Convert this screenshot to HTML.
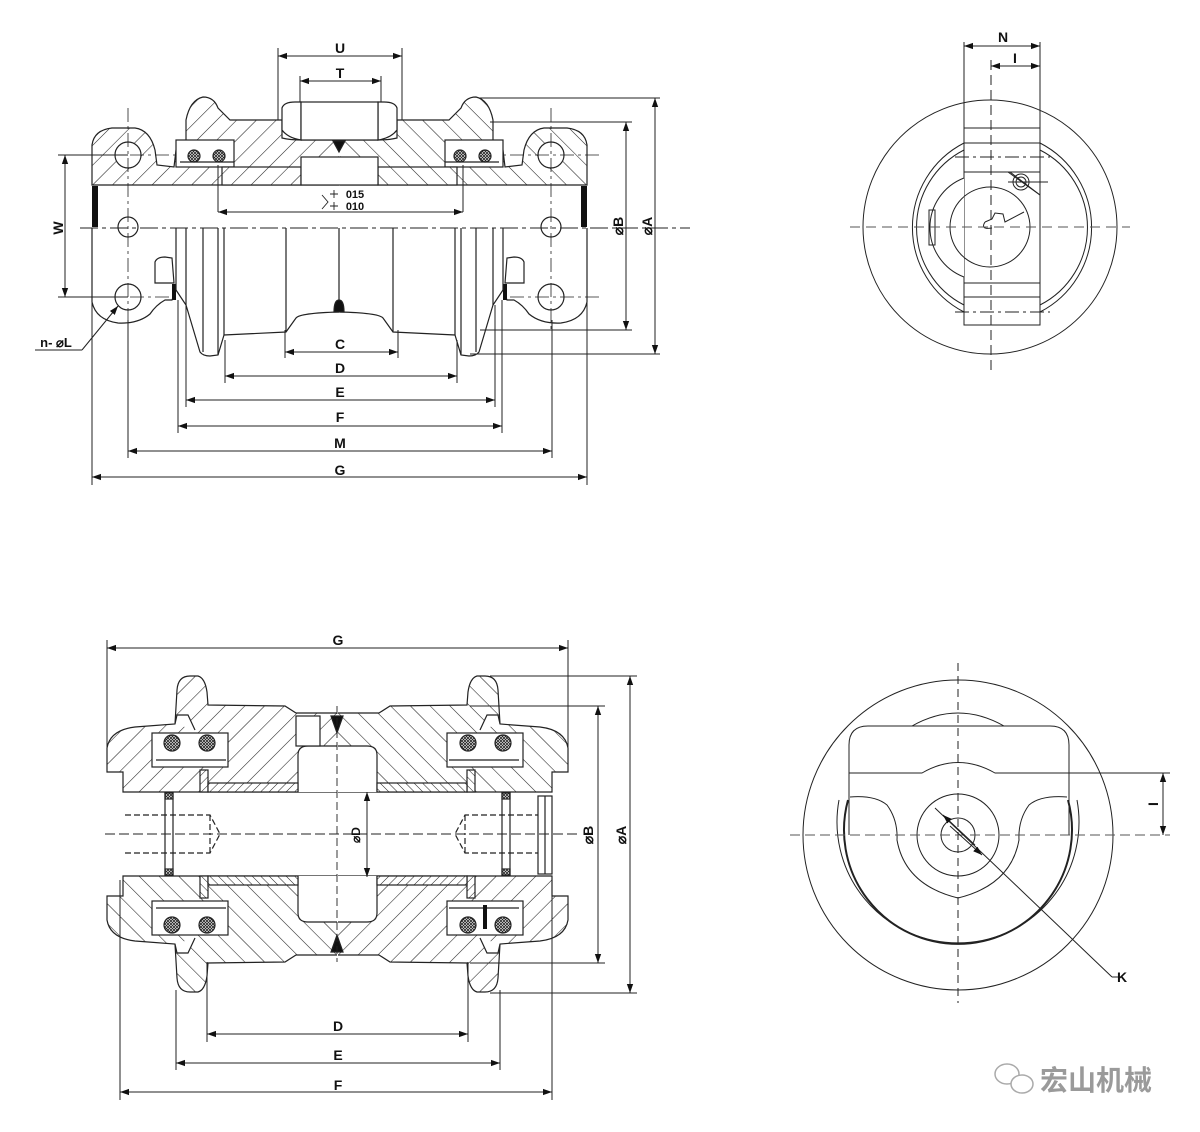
<!DOCTYPE html>
<html><head><meta charset="utf-8"><style>
html,body{margin:0;padding:0;background:#fff}
svg{display:block}
text{font-family:"Liberation Sans",sans-serif;font-weight:bold;fill:#111}
</style></head><body>
<svg width="1200" height="1132" viewBox="0 0 1200 1132" xmlns="http://www.w3.org/2000/svg">
<defs>
<pattern id="h" patternUnits="userSpaceOnUse" width="14" height="14" patternTransform="rotate(45)">
<rect width="14" height="14" fill="#fff"/><line x1="0" y1="0" x2="0" y2="14" stroke="#222" stroke-width="1.1"/></pattern>
<pattern id="hf" patternUnits="userSpaceOnUse" width="6" height="6" patternTransform="rotate(45)">
<rect width="6" height="6" fill="#fff"/><line x1="0" y1="0" x2="0" y2="6" stroke="#222" stroke-width="1"/></pattern>
<pattern id="x" patternUnits="userSpaceOnUse" width="3" height="3">
<rect width="3" height="3" fill="#fff"/><path d="M0 0L3 3M3 0L0 3" stroke="#222" stroke-width="0.8"/></pattern>
<marker id="a" viewBox="0 0 10 10" refX="10" refY="5" markerWidth="9" markerHeight="9" orient="auto-start-reverse" markerUnits="userSpaceOnUse"><path d="M0 1.5L10 5L0 8.5z" fill="#111"/></marker>
</defs>
<g fill="none" stroke="#222" stroke-width="1.2">

<!-- ============ TOP LEFT VIEW ============ -->
<g id="tq">
<path d="M339,185 L92,185 L92,145 Q94,130 112,128 L135,128 Q150,130 155,150 L157,165 L174,167 L176,150 L186,140 L186,120 Q190,100 203,97 Q214,97 218,108 L230,120 L282,120 L282,138 Q290,140 301,140 L339,140" fill="url(#h)"/>
<path d="M282,120 L282,108 Q284,102 295,102 L301,102 L301,140 Q288,138 282,130 Z" fill="#fff"/>
<rect x="176" y="140" width="58" height="27" fill="#fff"/>
<line x1="180" y1="162" x2="234" y2="162"/>
<circle cx="194" cy="156" r="6" fill="url(#x)"/><circle cx="219" cy="156" r="6" fill="url(#x)"/>
<rect x="222" y="167" width="79" height="18" fill="url(#h)"/>
<rect x="92" y="186" width="6" height="41" fill="#111" stroke="none"/>
<circle cx="128" cy="155" r="13" fill="#fff"/>
<circle cx="128" cy="227" r="10" fill="#fff"/>
<circle cx="128" cy="297" r="13"/>
<path d="M92,228 L92,302 Q96,320 118,323 Q138,324 150,314 Q156,305 165,300 L172,300 L176,290"/>
<path d="M155,283 L155,262 Q157,257 165,257 L172,258 L174,283 Z" fill="#fff"/>
<rect x="172" y="284" width="4" height="16" fill="#111" stroke="none"/>
<path d="M176,228 V290 M186,228 V305 M203,228 V352 M218,228 V355 M224,228 V335 M286,228 V332"/>
<path d="M176,290 L186,305 L200,352 Q203,356 210,356 L218,355 L224,335 L286,332 L296,318 Q300,313 339,312"/>
<path d="M128,108 V330 M80,155 H175 M80,297 H170" stroke-dasharray="14 4 3 4" stroke-width="0.8"/>
</g>
<use href="#tq" transform="translate(679,0) scale(-1,1)"/>
<rect x="301" y="102" width="77" height="38" fill="#fff"/>
<rect x="301" y="157" width="77" height="28" fill="#fff"/>
<polygon points="333,141 345,141 339,152" fill="#111"/>
<line x1="339" y1="228" x2="339" y2="303"/>
<path d="M334,312 Q334,300 339,300 Q344,300 344,312 Z" fill="#111"/>
<line x1="80" y1="228" x2="690" y2="228" stroke-dasharray="18 4 4 4" stroke-width="0.9"/>

<!-- dims top -->
<g stroke-width="1">
<path d="M278,48 V120 M402,48 V120 M300,76 V102 M381,76 V102"/>
<line x1="278" y1="56" x2="402" y2="56" marker-start="url(#a)" marker-end="url(#a)"/>
<line x1="300" y1="81" x2="381" y2="81" marker-start="url(#a)" marker-end="url(#a)"/>
<line x1="218" y1="212" x2="463" y2="212" marker-start="url(#a)" marker-end="url(#a)"/>
<path d="M218,165 V212 M463,165 V212"/>
<path d="M92,228 V485 M587,228 V485 M128,320 V458 M552,320 V458 M178,300 V433 M502,300 V433 M186,305 V407 M495,305 V407 M225,340 V383 M457,340 V383 M285,330 V358 M398,330 V358"/>
<line x1="285" y1="352" x2="398" y2="352" marker-start="url(#a)" marker-end="url(#a)"/>
<line x1="225" y1="376" x2="457" y2="376" marker-start="url(#a)" marker-end="url(#a)"/>
<line x1="186" y1="400" x2="495" y2="400" marker-start="url(#a)" marker-end="url(#a)"/>
<line x1="178" y1="426" x2="502" y2="426" marker-start="url(#a)" marker-end="url(#a)"/>
<line x1="128" y1="451" x2="552" y2="451" marker-start="url(#a)" marker-end="url(#a)"/>
<line x1="92" y1="477" x2="587" y2="477" marker-start="url(#a)" marker-end="url(#a)"/>
<path d="M480,98 H660 M490,122 H632 M480,330 H632 M470,354 H660"/>
<line x1="626" y1="122" x2="626" y2="330" marker-start="url(#a)" marker-end="url(#a)"/>
<line x1="655" y1="98" x2="655" y2="354" marker-start="url(#a)" marker-end="url(#a)"/>
<path d="M58,155 H128 M58,297 H128"/>
<line x1="65" y1="155" x2="65" y2="297" marker-start="url(#a)" marker-end="url(#a)"/>
<path d="M35,350 H82" />
<line x1="82" y1="350" x2="118" y2="306" marker-end="url(#a)"/>
<path d="M322,195 L328,202 L322,209 M330,194 H338 M334,190 V198 M330,206 H338 M334,202 V210" stroke-width="0.9"/>
</g>

<!-- ============ BOTTOM LEFT VIEW ============ -->
<g id="bq">
<path d="M337,792 L123,792 L123,772 L107,772 L107,748 Q110,730 135,727 L175,724 L177,690 Q178,676 190,676 L198,676 Q205,678 207,692 L208,705 L285,706 L296,713 L337,713" fill="url(#h)"/>
<rect x="298" y="746" width="39" height="46" fill="#fff" stroke="none"/>
<path d="M337,746 L308,746 Q298,746 298,755 L298,792"/>
<path d="M175,724 L177,715 L188,715 L195,730" fill="#fff"/>
<rect x="152" y="733" width="76" height="34" fill="#fff"/>
<line x1="156" y1="760" x2="226" y2="760"/>
<circle cx="172" cy="743" r="8" fill="url(#x)"/><circle cx="207" cy="743" r="8" fill="url(#x)"/>
<rect x="200" y="770" width="8" height="22" fill="url(#hf)"/>
<rect x="208" y="783" width="90" height="9" fill="url(#hf)"/>
<rect x="165" y="793" width="8" height="6" fill="url(#x)"/>
<path d="M165,792 V834 M173,792 V834"/>
<path d="M125,815 H210 L220,834 M210,815 V834" stroke-dasharray="6 3"/>
</g>
<use href="#bq" transform="translate(675,0) scale(-1,1)"/>
<use href="#bq" transform="translate(0,1668) scale(1,-1)"/>
<use href="#bq" transform="translate(675,1668) scale(-1,-1)"/>
<rect x="296" y="716" width="24" height="30" fill="#fff"/>
<rect x="538" y="796" width="14" height="78" fill="#fff"/>
<path d="M545,796 V874"/>
<rect x="483" y="905" width="4" height="24" fill="#111" stroke="none"/>
<polygon points="331,716 343,716 337,733" fill="#111"/>
<polygon points="331,952 343,952 337,935" fill="#111"/>
<line x1="337" y1="706" x2="337" y2="962" stroke-dasharray="8 4" stroke-width="0.9"/>
<line x1="105" y1="834" x2="578" y2="834" stroke-dasharray="10 4" stroke-width="0.9"/>
<g stroke-width="1">
<line x1="367" y1="792" x2="367" y2="877" marker-start="url(#a)" marker-end="url(#a)"/>
<path d="M107,640 V748 M568,640 V772"/>
<line x1="107" y1="648" x2="568" y2="648" marker-start="url(#a)" marker-end="url(#a)"/>
<path d="M207,962 V1042 M468,962 V1042 M176,990 V1070 M500,990 V1070 M120,880 V1100 M552,880 V1100"/>
<line x1="207" y1="1034" x2="468" y2="1034" marker-start="url(#a)" marker-end="url(#a)"/>
<line x1="176" y1="1063" x2="500" y2="1063" marker-start="url(#a)" marker-end="url(#a)"/>
<line x1="120" y1="1092" x2="552" y2="1092" marker-start="url(#a)" marker-end="url(#a)"/>
<path d="M470,706 H605 M470,963 H605 M490,676 H637 M490,993 H637"/>
<line x1="598" y1="706" x2="598" y2="963" marker-start="url(#a)" marker-end="url(#a)"/>
<line x1="630" y1="676" x2="630" y2="993" marker-start="url(#a)" marker-end="url(#a)"/>
</g>

<!-- ============ TOP RIGHT VIEW ============ -->
<g stroke-width="1">
<circle cx="990" cy="227" r="127"/>
<path d="M964,143 A95 95 0 0 0 964,312 M1040,143 A95 95 0 0 1 1040,312"/>
<path d="M964,150 A87 87 0 0 0 964,305 M1040,150 A87 87 0 0 1 1040,305"/>
<rect x="964" y="128" width="76" height="197" fill="#fff"/>
<path d="M964,143 H1040 M964,172 H1040 M964,283 H1040 M964,297 H1040"/>
<path d="M955,157 H1050 M955,312 H1050" stroke-dasharray="14 4 3 4"/>
<path d="M964,172 L964,178 A53 53 0 0 0 964,277 L964,283" fill="#fff"/>
<path d="M1040,172 L1040,195 L1008,172"/>
<rect x="929" y="210" width="6" height="35"/>
<circle cx="990" cy="227" r="40"/>
<path d="M985,222 L992,219 L995,213 L1003,214 L1005,222 L1024,212 M985,222 Q980,230 992,228"/>
<circle cx="1021" cy="182" r="8"/><circle cx="1021" cy="182" r="5"/>
<path d="M1008,182 H1048 M1010,172 L1040,195"/>
<path d="M964,42 V128 M1040,42 V128"/>
<line x1="991" y1="60" x2="991" y2="372" stroke-dasharray="10 5"/>
<line x1="850" y1="227" x2="1130" y2="227" stroke-dasharray="10 6" stroke="#555"/>
<line x1="964" y1="46" x2="1040" y2="46" marker-start="url(#a)" marker-end="url(#a)"/>
<line x1="991" y1="66" x2="1040" y2="66" marker-start="url(#a)" marker-end="url(#a)"/>
</g>

<!-- ============ BOTTOM RIGHT VIEW ============ -->
<g stroke-width="1">
<circle cx="958" cy="835" r="155"/>
<path d="M839,800 A121 121 0 1 0 1077,800"/>
<path d="M848,800 A114 114 0 1 0 1068,800" stroke-width="2"/>
<path d="M912,726 Q958,700 1004,726"/>
<path d="M849,773 V745 Q849,726 868,726 H1050 Q1069,726 1069,745 V773 H995 Q958,752 922,773 Z" fill="#fff"/>
<path d="M849,773 V835 M1069,773 V835"/>
<path d="M850,797 Q875,795 887,805 Q898,820 897,840 Q905,885 958,898 Q1011,885 1019,840 Q1018,820 1029,805 Q1041,795 1067,797"/>
<circle cx="958" cy="835" r="41"/>
<circle cx="958" cy="835" r="17"/>
<line x1="958" y1="663" x2="958" y2="1003" stroke-dasharray="8 5"/>
<line x1="790" y1="835" x2="1170" y2="835" stroke-dasharray="10 5" stroke="#555"/>
<line x1="1069" y1="773" x2="1170" y2="773"/>
<line x1="1163" y1="773" x2="1163" y2="835" marker-start="url(#a)" marker-end="url(#a)"/>
<line x1="935" y1="808" x2="1112" y2="977"/>
<line x1="975" y1="845" x2="943" y2="815" marker-end="url(#a)"/>
<line x1="950" y1="826" x2="982" y2="855" marker-end="url(#a)"/>
<line x1="1112" y1="977" x2="1122" y2="977"/>
</g>
</g>

<!-- labels -->
<g font-size="14" text-anchor="middle">
<text x="340" y="53">U</text><text x="340" y="78">T</text>
<text x="340" y="349">C</text><text x="340" y="373">D</text><text x="340" y="397">E</text>
<text x="340" y="422">F</text><text x="340" y="448">M</text><text x="340" y="475">G</text>
<text x="355" y="198" font-size="11">015</text><text x="355" y="210" font-size="11">010</text>
<text transform="translate(63,228) rotate(-90)">W</text>
<text transform="translate(623,226) rotate(-90)">⌀B</text>
<text transform="translate(652,226) rotate(-90)">⌀A</text>
<text x="56" y="347" font-size="13">n- ⌀L</text>
<text x="1003" y="42">N</text><text x="1015" y="63" font-weight="normal" font-family="Liberation Serif">I</text>
<text x="338" y="645">G</text><text x="338" y="1031">D</text><text x="338" y="1060">E</text><text x="338" y="1090">F</text>
<text transform="translate(360,835) rotate(-90)" font-size="12">⌀D</text>
<text transform="translate(593,835) rotate(-90)">⌀B</text>
<text transform="translate(626,835) rotate(-90)">⌀A</text>
<text transform="translate(1158,804) rotate(-90)" font-weight="normal" font-family="Liberation Serif">I</text>
<text x="1122" y="982">K</text>
</g>
<g fill="none" stroke="#aaa" stroke-width="1.5">
<ellipse cx="1007" cy="1074" rx="12" ry="10"/>
<ellipse cx="1022" cy="1084" rx="11" ry="9" fill="#fff"/>
</g>
<text x="1040" y="1090" font-size="28" font-weight="normal" style="font-family:'Liberation Sans','Noto Sans CJK SC',sans-serif;fill:#9a9a9a">宏山机械</text>
</svg>
</body></html>
